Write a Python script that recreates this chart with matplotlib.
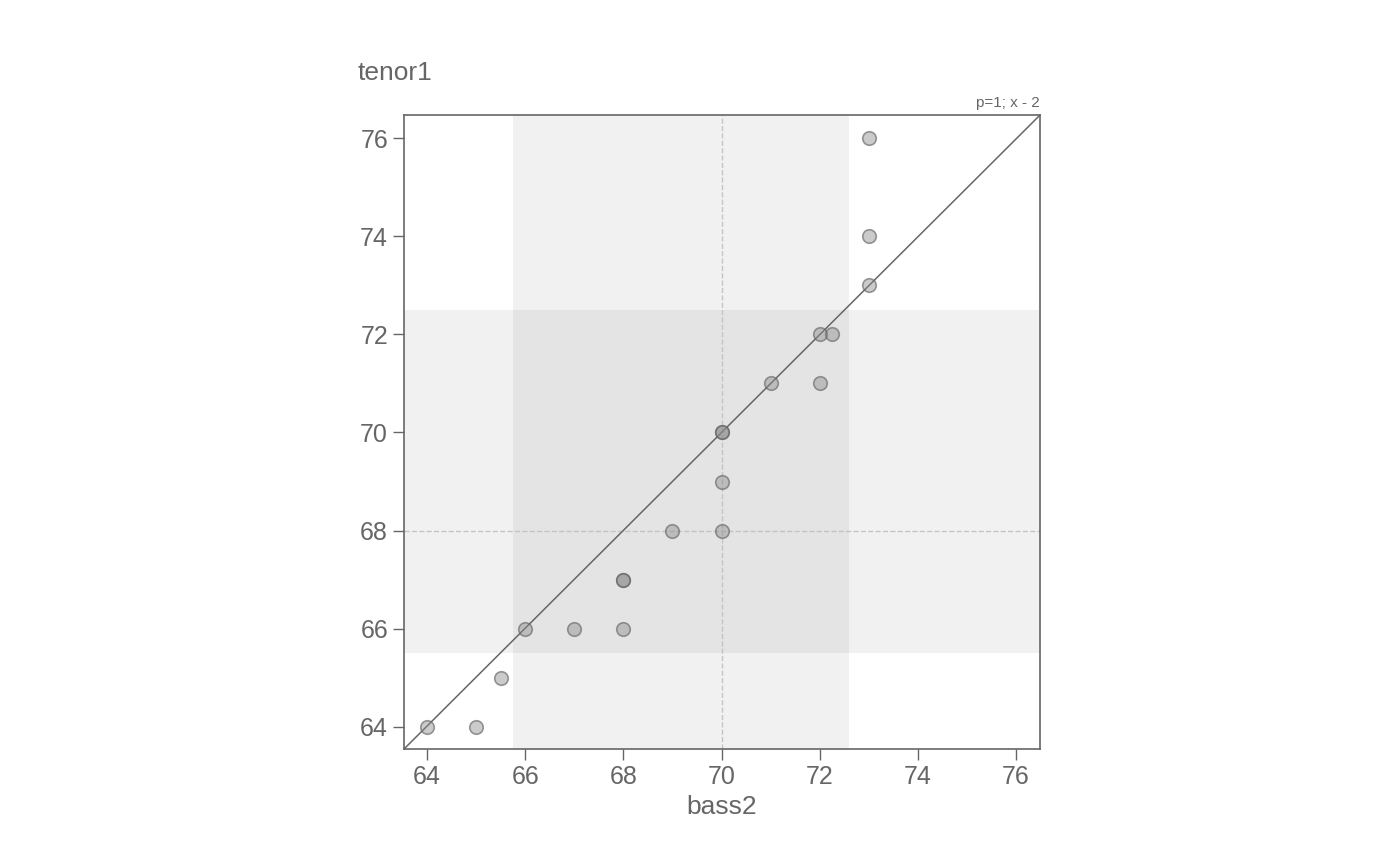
import numpy as np
import matplotlib.pyplot as plt

plt.rcParams['font.family'] = ['Liberation Sans', 'DejaVu Sans']

bass2 = [64, 65, 65.5, 66, 67, 68, 68, 68, 69, 70, 70, 70, 70, 71, 72, 72, 72.25, 73, 73, 73]
tenor1 = [64, 64, 65, 66, 66, 66, 67, 67, 68, 68, 69, 70, 70, 71, 71, 72, 72, 73, 74, 76]
x_band = (65.75, 72.6)
y_band = (65.5, 72.5)
x_med, y_med = 70, 68
ticks = [64, 66, 68, 70, 72, 74, 76]

fig = plt.figure(figsize=(14, 8.66), dpi=100)
ax = fig.add_axes([0.2886, 0.1351, 0.4543, 0.7321])
xlim = (63.53, 76.49)
ylim = (63.55, 76.47)
ax.set_xlim(*xlim)
ax.set_ylim(*ylim)

ax.axvspan(*x_band, color='#f1f1f1', lw=0, zorder=0)
ax.axhspan(*y_band, color='#f1f1f1', lw=0, zorder=0)
ax.fill_between(x_band, y_band[0], y_band[1], color='#e4e4e4', lw=0, zorder=0)
ax.axvline(x_med, color='#c4c4c4', ls='--', lw=1, zorder=1)
ax.axhline(y_med, color='#c4c4c4', ls='--', lw=1, zorder=1)
ax.plot([xlim[0], xlim[1]], [ylim[0], ylim[1]], color='#666666', lw=1.1, zorder=2)

ax.scatter(bass2, tenor1, s=95, facecolor=(0.55, 0.55, 0.55, 0.45),
           edgecolor=(0.4, 0.4, 0.4, 0.65), lw=1.2, zorder=3)

ax.set_xticks(ticks)
ax.set_yticks(ticks)
for s in ax.spines.values():
    s.set_color('#666666')
    s.set_linewidth(1.2)
ax.tick_params(colors='#666666', labelsize=18, length=8, width=1)
ax.set_xlabel('bass2', fontsize=19, color='#666666', labelpad=4)
fig.text(0.2557, 0.908, 'tenor1', fontsize=19, color='#666666')
ax.text(1.0, 1.008, 'p=1; x - 2', transform=ax.transAxes, ha='right', va='bottom',
        fontsize=11, color='#666666')

plt.savefig('out.png')
